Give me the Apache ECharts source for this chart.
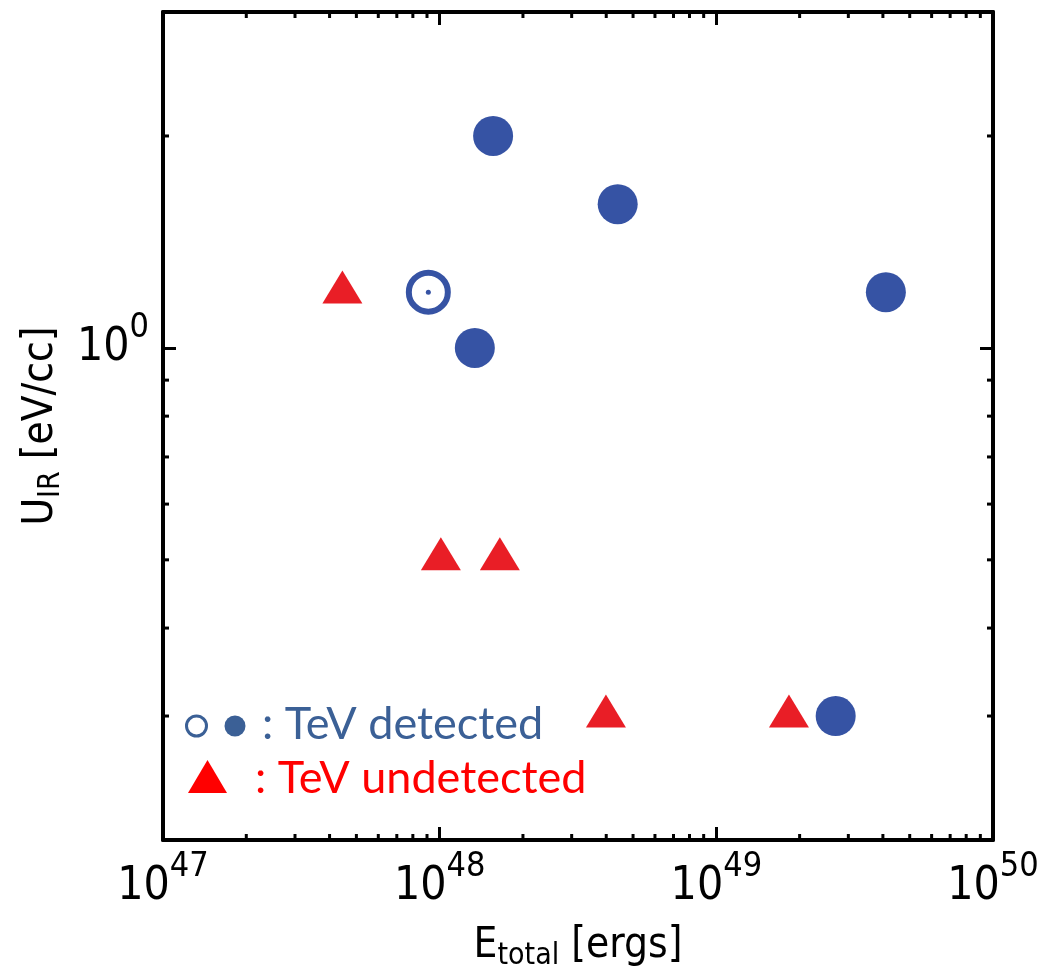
<!DOCTYPE html>
<html>
<head>
<meta charset="utf-8">
<script src="https://cdn.jsdelivr.net/npm/echarts@6/dist/echarts.min.js"></script>
<style>
  html, body { margin: 0; padding: 0; background: #fff; }
  #chart { width: 1041px; height: 973px; }
</style>
</head>
<body>
<div id="chart"></div>
<script>
// Total energy E_total [ergs] and infrared energy density U_IR [eV/cc]
const detectedE = [1.56e48, 4.4e48, 1.34e48, 4.1e49, 2.7e49];
const detectedU = [2.0, 1.6, 1.0, 1.2, 0.3];
const openE = [9.1e47];
const openU = [1.2];
const undetectedE = [4.45e47, 1.01e48, 1.65e48, 3.99e48, 1.83e49];
const undetectedU = [1.22, 0.51, 0.51, 0.305, 0.305];

// Axis ranges and minor tick values
const xRange = [1e47, 1e50];
const yRange = [0.2, 3];
const xMinorTicks = [2e47, 3e47, 4e47, 5e47, 6e47, 7e47, 8e47, 9e47,
                     2e48, 3e48, 4e48, 5e48, 6e48, 7e48, 8e48, 9e48,
                     2e49, 3e49, 4e49, 5e49, 6e49, 7e49, 8e49, 9e49];
const yMinorTicks = [0.3, 0.4, 0.5, 0.6, 0.7, 0.8, 0.9, 2];

const BLUE = '#3653a4';
const RED = '#e91e26';
const LEGEND_BLUE = '#3b6096';
const LEGEND_RED = '#ff0000';
const NARROW = '"Liberation Sans Narrow", "DejaVu Sans Condensed", "Liberation Sans", Arial, sans-serif';
const MINOR_LEN = 6;

const pairs = (xs, ys) => xs.map((x, i) => [x, ys[i]]);

function powerLabel(v) {
  const l = Math.log10(v);
  const e = Math.round(l);
  if (Math.abs(l - e) > 1e-6) return '';
  return '{b|10}{s|' + e + '}';
}
const powerRich = {
  b: { fontFamily: NARROW, fontSize: 46, color: '#000', lineHeight: 74 },
  s: { fontFamily: NARROW, fontSize: 34, color: '#000', lineHeight: 34, verticalAlign: 'top' }
};
const titleRich = {
  m: { fontFamily: NARROW, fontSize: 42, color: '#000', lineHeight: 50 },
  sub: { fontFamily: NARROW, fontSize: 30, color: '#000', lineHeight: 30, verticalAlign: 'bottom' }
};

const frameLine = { show: true, lineStyle: { color: '#000', width: 4 } };
const majorTick = { show: true, inside: true, length: 13, lineStyle: { color: '#000', width: 3 } };

function minorTickSeries(values, dir) {
  return {
    type: 'custom',
    silent: true,
    z: 5,
    data: values.map(v => dir === 'x' ? [v, yRange[0]] : [xRange[0], v]),
    renderItem(params, api) {
      const st = { stroke: '#000', lineWidth: 3 };
      if (dir === 'x') {
        const v = api.value(0);
        const b = api.coord([v, yRange[0]]);
        const t = api.coord([v, yRange[1]]);
        return { type: 'group', children: [
          { type: 'line', shape: { x1: b[0], y1: b[1], x2: b[0], y2: b[1] - MINOR_LEN }, style: st },
          { type: 'line', shape: { x1: t[0], y1: t[1], x2: t[0], y2: t[1] + MINOR_LEN }, style: st }
        ] };
      }
      const v = api.value(1);
      const l = api.coord([xRange[0], v]);
      const r = api.coord([xRange[1], v]);
      return { type: 'group', children: [
        { type: 'line', shape: { x1: l[0], y1: l[1], x2: l[0] + MINOR_LEN, y2: l[1] }, style: st },
        { type: 'line', shape: { x1: r[0], y1: r[1], x2: r[0] - MINOR_LEN, y2: r[1] }, style: st }
      ] };
    }
  };
}

const chart = echarts.init(document.getElementById('chart'), null, { renderer: 'canvas' });

chart.setOption({
  animation: false,
  backgroundColor: '#fff',
  grid: { left: 163, right: 48, top: 12, bottom: 133, containLabel: false, outerBoundsMode: 'none' },
  xAxis: [
    {
      type: 'log', logBase: 10, min: xRange[0], max: xRange[1], position: 'bottom',
      axisLine: frameLine, axisTick: majorTick, splitLine: { show: false },
      axisLabel: { formatter: powerLabel, rich: powerRich, margin: 10, showMinLabel: true, showMaxLabel: true },
      name: '{m|E}{sub|total}{m| [ergs]}', nameLocation: 'middle', nameGap: 81,
      nameTextStyle: { rich: titleRich }
    },
    {
      type: 'log', logBase: 10, min: xRange[0], max: xRange[1], position: 'top',
      axisLine: frameLine, axisTick: majorTick, splitLine: { show: false }, axisLabel: { show: false }
    }
  ],
  yAxis: [
    {
      type: 'log', logBase: 10, min: yRange[0], max: yRange[1], position: 'left',
      axisLine: frameLine, axisTick: majorTick, splitLine: { show: false },
      axisLabel: { formatter: powerLabel, rich: powerRich, margin: 14 },
      name: '{m|U}{sub|IR}{m| [eV/cc]}', nameLocation: 'middle', nameGap: 95, nameRotate: 90,
      nameTextStyle: { rich: titleRich }
    },
    {
      type: 'log', logBase: 10, min: yRange[0], max: yRange[1], position: 'right',
      axisLine: frameLine, axisTick: majorTick, splitLine: { show: false }, axisLabel: { show: false }
    }
  ],
  series: [
    minorTickSeries(xMinorTicks, 'x'),
    minorTickSeries(yMinorTicks, 'y'),
    {
      name: 'TeV undetected', type: 'scatter', symbol: 'triangle', symbolSize: [40, 33],
      itemStyle: { color: RED, opacity: 1 }, z: 10,
      data: pairs(undetectedE, undetectedU)
    },
    {
      name: 'TeV detected', type: 'scatter', symbol: 'circle', symbolSize: 40,
      itemStyle: { color: BLUE, opacity: 1 }, z: 10,
      data: pairs(detectedE, detectedU)
    },
    {
      name: 'TeV detected (open)', type: 'scatter', symbol: 'circle', symbolSize: 39,
      itemStyle: { color: '#fff', borderColor: BLUE, borderWidth: 6, opacity: 1 }, z: 10,
      data: pairs(openE, openU)
    },
    {
      name: 'TeV detected (open, centre)', type: 'scatter', symbol: 'circle', symbolSize: 5,
      itemStyle: { color: BLUE, opacity: 1 }, z: 11,
      data: pairs(openE, openU)
    }
  ],
  graphic: [
    { type: 'circle', shape: { cx: 196.5, cy: 726, r: 10 }, style: { fill: '#fff', stroke: LEGEND_BLUE, lineWidth: 3 }, z: 20 },
    { type: 'circle', shape: { cx: 235, cy: 726, r: 10.5 }, style: { fill: LEGEND_BLUE }, z: 20 },
    { type: 'text', x: 262, y: 724, style: { text: ': TeV detected', fill: LEGEND_BLUE, font: '45px Lato, "Open Sans", sans-serif', verticalAlign: 'middle' }, z: 20 },
    { type: 'polygon', shape: { points: [[207.5, 760], [227, 793], [188, 793]] }, style: { fill: LEGEND_RED }, z: 20 },
    { type: 'text', x: 255, y: 778, style: { text: ': TeV undetected', fill: LEGEND_RED, font: '45px Lato, "Open Sans", sans-serif', verticalAlign: 'middle' }, z: 20 }
  ]
});
</script>
</body>
</html>
